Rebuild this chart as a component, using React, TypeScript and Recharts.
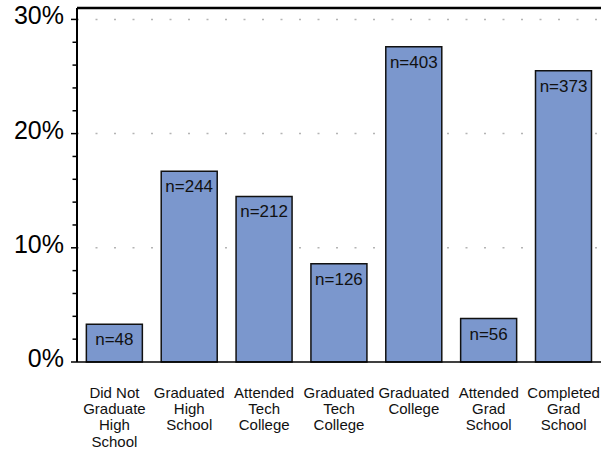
import { BarChart, Bar, XAxis, YAxis, CartesianGrid, LabelList, ReferenceLine } from "recharts";

const CATEGORIES = [
  "Did Not\nGraduate\nHigh\nSchool",
  "Graduated\nHigh\nSchool",
  "Attended\nTech\nCollege",
  "Graduated\nTech\nCollege",
  "Graduated\nCollege",
  "Attended\nGrad\nSchool",
  "Completed\nGrad\nSchool",
];
const SHARES = [3.3, 16.7, 14.5, 8.6, 27.6, 3.8, 25.5];
const COUNTS = [48, 244, 212, 126, 403, 56, 373];
const Y_TICKS = [0, 2, 4, 6, 8, 10, 12, 14, 16, 18, 20, 22, 24, 26, 28, 30];

const data = CATEGORIES.map((cat, i) => ({ cat, pct: SHARES[i], n: COUNTS[i] }));

const font = '"Liberation Sans", Arial, sans-serif';

function YTick({ x, y, payload }: any) {
  const major = payload.value % 10 === 0;
  return (
    <g>
      <line x1={x - (major ? 6 : 4.5)} x2={x} y1={y} y2={y} stroke="#000" strokeWidth={1.5} />
      {major && (
        <text x={x - 13} y={y + 5} textAnchor="end" fontSize={25} fontFamily={font} fill="#000">
          {payload.value}%
        </text>
      )}
    </g>
  );
}

function XTick({ x, y, payload }: any) {
  const lines = String(payload.value).split("\n");
  return (
    <text x={x} y={y} textAnchor="middle" fontSize={15} fontFamily={font} fill="#111">
      {lines.map((l, i) => (
        <tspan key={i} x={x} y={y + 35.5 + i * 16.4}>{l}</tspan>
      ))}
    </text>
  );
}

export default function App() {
  return (
    <div style={{ width: 601, height: 449 }}>
      <style>{"body{margin:0}"}</style>
      <BarChart
        width={601}
        height={449}
        data={data}
        margin={{ top: 8, right: 0, left: 0, bottom: 0 }}
        barCategoryGap="12.5%"
      >
        <CartesianGrid
          vertical={false}
          horizontalValues={[10, 20, 30]}
          stroke="#b4b4b4"
          strokeWidth={1.5}
          strokeDasharray="2 16.5"
        />
        <XAxis
          dataKey="cat"
          height={87}
          interval={0}
          tickLine={false}
          tickSize={0}
          tickMargin={0}
          tick={<XTick />}
          axisLine={{ stroke: "#000", strokeWidth: 1.5 }}
        />
        <YAxis
          width={77}
          domain={[0, 31]}
          ticks={Y_TICKS}
          interval={0}
          tickLine={false}
          tickSize={0}
          tickMargin={0}
          tick={<YTick />}
          axisLine={{ stroke: "#000", strokeWidth: 2 }}
        />
        <ReferenceLine y={31} stroke="#000" strokeWidth={2.5} ifOverflow="visible" />
        <Bar dataKey="pct" fill="#7b97cd" stroke="#111" strokeWidth={1.5} isAnimationActive={false}>
          <LabelList
            dataKey="n"
            position="insideTop"
            offset={9}
            formatter={(v: any) => `n=${v}`}
            fontSize={17}
            fontFamily={font}
            fill="#111"
          />
        </Bar>
      </BarChart>
    </div>
  );
}
